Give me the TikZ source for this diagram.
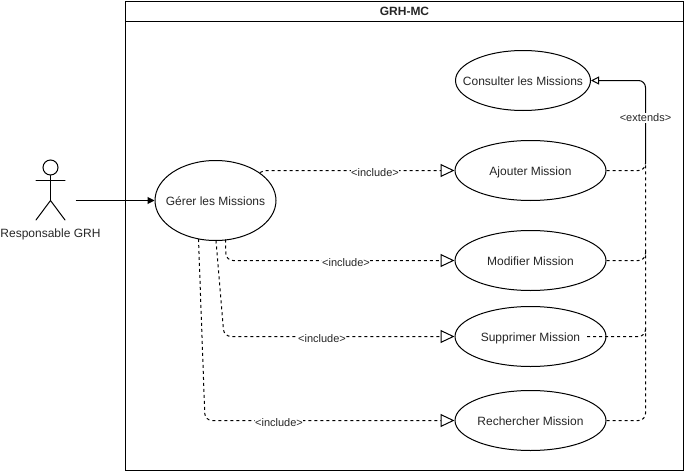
\documentclass[tikz,border=0pt]{standalone}
\usepackage{fontspec}
\setmainfont{Liberation Sans}
\usetikzlibrary{arrows.meta,shapes.geometric}
\newcommand{\uctext}[1]{\makebox[0pt]{\smash{\raisebox{-4.5pt}{#1}}}}
\tikzset{
  uc/.style={draw=black,fill=white,ellipse,inner sep=0pt,line width=1pt,font=\fontsize{12}{14}\selectfont,text=black!85},
  ucw/.style={uc,minimum width=151pt,minimum height=60pt},
  lbl/.style={fill=white,inner sep=0.5pt,font=\fontsize{11}{13}\selectfont,text=black!85},
  dash1/.style={line width=1pt,dash pattern=on 3pt off 3pt},
  incl/.style={dash1,rounded corners=7pt,-{Triangle[open,fill=white,length=14pt,width=13pt,line width=1pt]}},
  ext/.style={dash1,rounded corners=7pt},
  actorline/.style={line width=1pt,line cap=round}
}
\begin{document}
\begin{tikzpicture}[x=1pt,y=-1pt]
\useasboundingbox (0,0) rectangle (686,471);
% container
\node[draw=black,line width=1pt,minimum width=558pt,minimum height=469pt,inner sep=0pt,anchor=north west] (sys) at (125,1) {};
\node[draw=black,line width=1pt,minimum width=558pt,minimum height=19.5pt,inner sep=0pt,anchor=north west,font=\bfseries\fontsize{12}{14}\selectfont,text=black!85] (title) at (125,1) {GRH-MC};
% use cases
\node[uc,minimum width=135pt,minimum height=60pt] (cons) at (523,80.5) {\uctext{Consulter les Missions}};
\node[ucw] (aj) at (530.5,170.5) {\uctext{Ajouter Mission}};
\node[ucw] (mod) at (530.5,260.5) {\uctext{Modifier Mission}};
\node[ucw] (sup) at (530.5,336.5) {\uctext{Supprimer Mission}};
\node[ucw] (rech) at (530.5,420.5) {\uctext{Rechercher Mission}};
\node[uc,minimum width=121pt,minimum height=80pt] (ger) at (215.5,200.5) {\uctext{Gérer les Missions}};
% actor
\node[circle,draw=black,line width=1pt,minimum size=15pt,inner sep=0pt] (head) at (50.5,167.5) {};
\coordinate (hip) at (50.5,200.5);
\coordinate (armL) at (36,180.5);
\coordinate (armR) at (65,180.5);
\coordinate (legL) at (36,220);
\coordinate (legR) at (65,220);
\draw[actorline] (head.south) -- (hip);
\draw[actorline] (armL) -- (armR);
\draw[actorline] (legL) -- (hip) -- (legR);
\node[font=\fontsize{12}{14}\selectfont,text=black!85] (actor) at (50.5,234.5) {Responsable GRH};
\coordinate (actout) at (75.5,200.5);
\draw[line width=1pt,-{Triangle[length=7pt,width=7pt]}] (actout) -- (ger.west);
% include edges
\coordinate (g1) at (260,172.5);
\coordinate (g1b) at (265,170.5);
\coordinate (g2) at (225.5,239.5);
\coordinate (g3) at (216,240.5);
\coordinate (g4) at (198.5,239);
\draw[incl,rounded corners=0pt] (g1) -- (g1b) -- (aj.west);
\draw[incl] (g2) -- (226,260.5) -- (mod.west);
\draw[incl] (g3) -- (224,336.5) -- (sup.west);
\draw[incl] (g4) -- (205,420.5) -- (rech.west);
\node[lbl] (l1) at (375,172.5) {<include>};
\node[lbl] (l2) at (346,262.5) {<include>};
\node[lbl] (l3) at (322,338.5) {<include>};
\node[lbl] (l4) at (279,422.5) {<include>};
% extends edges
\coordinate (j1) at (645.5,163);
\coordinate (j2) at (645.5,250);
\coordinate (j3) at (645.5,328);
\coordinate (j4) at (645.5,413);
\coordinate (supin) at (587,336.5);
\draw[line width=1pt,rounded corners=7pt,-{Triangle[open,fill=white,length=8pt,width=8pt,line width=1pt]}] (j1) -- (645.5,80.5) -- (cons.east);
\draw[ext] (aj.east) -- (645.5,170.5) -- (j1);
\draw[ext] (mod.east) -- (645.5,260.5) -- (j2);
\draw[ext] (supin) -- (645.5,336.5) -- (j3);
\draw[ext] (rech.east) -- (645.5,420.5) -- (j1);
\node[lbl] (l5) at (645.5,118) {<extends>};
\end{tikzpicture}
\end{document}
